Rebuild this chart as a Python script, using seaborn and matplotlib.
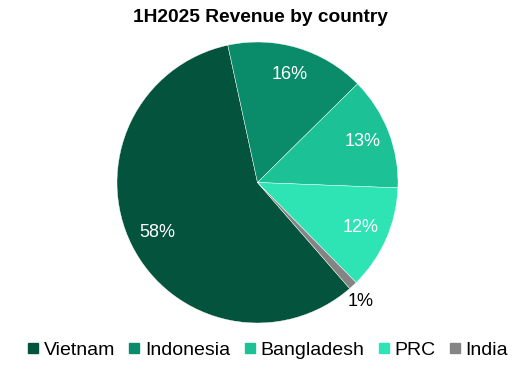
import matplotlib
matplotlib.use("Agg")
import matplotlib.pyplot as plt
import seaborn as sns
import numpy as np
from matplotlib.lines import Line2D

countries = ["Vietnam", "Indonesia", "Bangladesh", "PRC", "India"]
shares = [58, 16, 13, 12, 1]
colors = ["#04533c", "#0a8c6b", "#1cc196", "#2ee4b5", "#848484"]
title = "1H2025 Revenue by country"

sns.set_theme(style="white")
plt.rcParams["font.family"] = ["Liberation Sans", "DejaVu Sans"]
plt.rcParams["text.color"] = "black"

fig = plt.figure(figsize=(5.21, 3.72), dpi=100)
ax = fig.add_axes([117 / 521, 49 / 372, 281 / 521, 281 / 372])

wedges, texts, autotexts = ax.pie(
    shares, colors=colors, startangle=311, counterclock=False,
    autopct=lambda p: f"{p:.0f}%", pctdistance=0.8,
    wedgeprops=dict(edgecolor="white", linewidth=0.3),
    textprops=dict(color="white", fontsize=13),
)
# move the small slice label outside
w = wedges[-1]
mid = np.deg2rad((w.theta1 + w.theta2) / 2)
autotexts[-1].set_position((1.12 * np.cos(mid - 0.03), 1.12 * np.sin(mid - 0.03)))
autotexts[-1].set_color("black")

ax.set_xlim(-1, 1)
ax.set_ylim(-1, 1)
ax.set_aspect("equal")
ax.axis("off")

fig.text(0.5, 0.952, title, ha="center", va="center", fontsize=13.8,
         fontweight="bold", color="black")

handles = [Line2D([0], [0], marker="s", linestyle="", markersize=7,
                  markerfacecolor=c, markeredgecolor=c) for c in colors]
fig.legend(handles, countries, loc="center", bbox_to_anchor=(0.510, 0.058),
           ncol=5, frameon=False, fontsize=14, handletextpad=0.05,
           columnspacing=0.5, handlelength=1.0, labelcolor="black")

fig.savefig("out.png", dpi=100)
